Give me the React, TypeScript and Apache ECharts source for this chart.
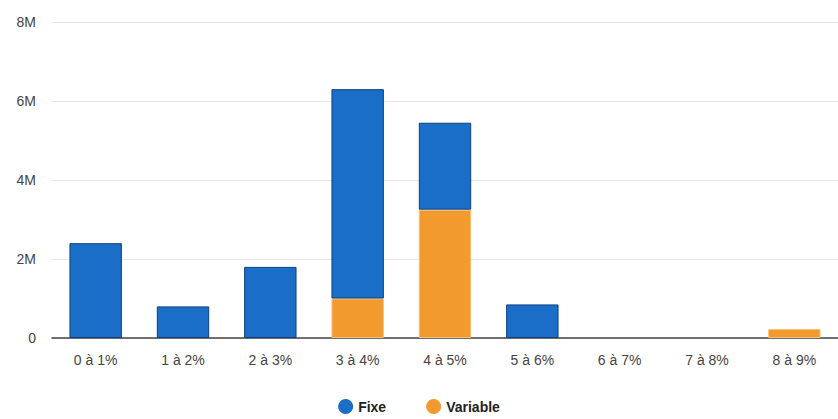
import React, { useEffect, useRef } from "react";
import * as echarts from "echarts";

const categories = ["0 à 1%", "1 à 2%", "2 à 3%", "3 à 4%", "4 à 5%", "5 à 6%", "6 à 7%", "7 à 8%", "8 à 9%"];
const fixeValues = [2400000, 800000, 1800000, 5300000, 2200000, 850000, 0, 0, 0];
const variableValues = [0, 0, 0, 1000000, 3250000, 0, 0, 0, 230000];
const yTicks = [0, 2000000, 4000000, 6000000, 8000000];

const hideZero = (arr: number[]) => arr.map((v) => (v === 0 ? "-" : v));

export default function App() {
  const ref = useRef<HTMLDivElement>(null);
  useEffect(() => {
    if (!ref.current) return;
    const chart = echarts.init(ref.current, undefined, { renderer: "svg" });
    chart.setOption({
      animation: false,
      textStyle: { fontFamily: "Liberation Sans, Arial, sans-serif" },
      grid: { left: 52, right: -12, top: 22, bottom: 81 },
      legend: {
        data: ["Fixe", "Variable"],
        bottom: 0,
        left: "center",
        icon: "circle",
        itemWidth: 15,
        itemHeight: 15,
        itemGap: 40,
        itemStyle: { borderWidth: 0 },
        textStyle: { fontSize: 14, fontWeight: "bold", color: "#222" },
      },
      xAxis: {
        type: "category",
        data: categories,
        axisLine: { lineStyle: { color: "#444", width: 1.5 } },
        axisTick: { show: false },
        axisLabel: { fontSize: 14, color: "#444", margin: 15 },
      },
      yAxis: {
        type: "value",
        min: yTicks[0],
        max: yTicks[yTicks.length - 1],
        interval: 2000000,
        axisLine: { show: false },
        axisTick: { show: false },
        splitLine: { lineStyle: { color: "#e6e6e6" } },
        axisLabel: {
          fontSize: 14,
          color: "#444",
          margin: 16,
          formatter: (v: number) => (v === 0 ? "0" : v / 1000000 + "M"),
        },
      },
      series: [
        {
          name: "Variable",
          type: "bar",
          stack: "total",
          data: hideZero(variableValues),
          barWidth: "60%",
          itemStyle: { color: "#f39a2e", borderColor: "#f7c07a", borderWidth: 1 },
        },
        {
          name: "Fixe",
          type: "bar",
          stack: "total",
          data: hideZero(fixeValues),
          barWidth: "60%",
          itemStyle: { color: "#1a6ec8", borderColor: "#0d3f80", borderWidth: 1 },
        },
      ],
    });
    return () => chart.dispose();
  }, []);
  return (
    <div
      ref={ref}
      style={{ position: "absolute", left: 0, top: 0, width: 838, height: 419, background: "#fff" }}
    />
  );
}
